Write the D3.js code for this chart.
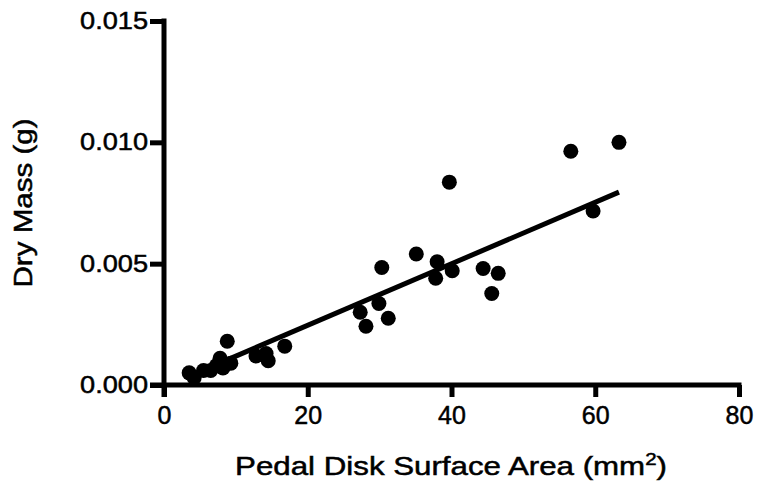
<!DOCTYPE html>
<html>
<head>
<meta charset="utf-8">
<script src="https://cdn.jsdelivr.net/npm/d3@7"></script>
<style>
  html, body { margin: 0; padding: 0; background: #fff; }
  svg { display: block; }
  text { font-family: "Liberation Sans", Arial, sans-serif; fill: #000; stroke: #000; stroke-width: 0.5px; }
</style>
</head>
<body>
<svg id="chart" width="758" height="484"></svg>
<script>
// Data
const areaValues = [3.5, 4.2, 5.5, 6.5, 7.3, 7.8, 8.2, 8.8, 9.3, 12.8, 14.2, 14.5, 16.8,
  27.3, 28.1, 29.9, 30.3, 31.2, 35.1, 37.8, 38.0, 39.7, 40.1, 44.4, 45.6, 46.5,
  56.6, 59.7, 63.3];
const massValues = [0.0005, 0.0003, 0.0006, 0.0006, 0.0008, 0.0011, 0.0007, 0.0018, 0.0009, 0.0012, 0.0013, 0.0010, 0.0016,
  0.0030, 0.00242, 0.00336, 0.00484, 0.00275, 0.0054, 0.0044, 0.00508, 0.00836, 0.00471, 0.0048, 0.00377, 0.0046,
  0.00963, 0.00717, 0.0100];
const xTicks = [0, 20, 40, 60, 80];
const yTicks = [0.000, 0.005, 0.010, 0.015];
const fitSlope = 0.0001268;
const fitIntercept = -0.000077;
const fitRange = [3.5, 63.3];

const svg = d3.select("#chart");
const x = d3.scaleLinear().domain([0, 80]).range([164, 739]);
const y = d3.scaleLinear().domain([0, 0.015]).range([385, 21]);

// X axis
const xAxis = d3.axisBottom(x).tickValues(xTicks).tickFormat(d3.format("d"))
  .tickSize(12).tickSizeOuter(0).tickPadding(9);
const gx = svg.append("g").attr("transform", `translate(0,${y(0)})`).call(xAxis);
gx.select(".domain").attr("stroke", "#000").attr("stroke-width", 5)
  .attr("d", `M${x(0) - 14},0H${x(80) + 2.5}`);
gx.selectAll(".tick line").attr("stroke", "#000").attr("stroke-width", 5);
gx.selectAll(".tick text").style("font-size", "25px").style("font-family", "Liberation Sans, Arial, sans-serif");

// Y axis
const yAxis = d3.axisLeft(y).tickValues(yTicks).tickFormat(d3.format(".3f"))
  .tickSize(14).tickSizeOuter(0).tickPadding(0);
const gy = svg.append("g").attr("transform", `translate(${x(0)},0)`).call(yAxis);
gy.select(".domain").attr("stroke", "#000").attr("stroke-width", 5)
  .attr("d", `M0,${y(0.015) - 2.5}V${y(0) + 12}`);
gy.selectAll(".tick line").attr("stroke", "#000").attr("stroke-width", 5);
gy.selectAll(".tick text").style("font-size", "23.5px")
  .style("font-family", "Liberation Sans, Arial, sans-serif")
  .attr("x", 0)
  .each(function () {
    const w = this.getComputedTextLength();
    const s = 68 / w;
    d3.select(this).attr("transform", `translate(-16,0) scale(${s},1)`);
  });

// Regression line
svg.append("line")
  .attr("x1", x(fitRange[0])).attr("y1", y(fitIntercept + fitSlope * fitRange[0]))
  .attr("x2", x(fitRange[1])).attr("y2", y(fitIntercept + fitSlope * fitRange[1]))
  .attr("stroke", "#000").attr("stroke-width", 5);

// Points
const pts = areaValues.map((v, i) => ({ a: v, m: massValues[i] }));
svg.append("g").selectAll("circle").data(pts).join("circle")
  .attr("cx", d => x(d.a)).attr("cy", d => y(d.m)).attr("r", 7.5).attr("fill", "#000");

// Axis titles
const yt = svg.append("text")
  .attr("text-anchor", "middle")
  .style("font-size", "26px")
  .text("Dry Mass (g)");
{
  const s = 169 / yt.node().getComputedTextLength();
  yt.attr("transform", `translate(32,203) rotate(-90) scale(${s},1)`);
}

const xt = svg.append("text")
  .attr("text-anchor", "middle")
  .style("font-size", "26px");
xt.append("tspan").text("Pedal Disk Surface Area (mm");
xt.append("tspan").attr("dy", -10).style("font-size", "17px").text("2");
xt.append("tspan").attr("dy", 10).text(")");
{
  const s = 432 / xt.node().getComputedTextLength();
  xt.attr("transform", `translate(451,475) scale(${s},1)`);
}
</script>
</body>
</html>
